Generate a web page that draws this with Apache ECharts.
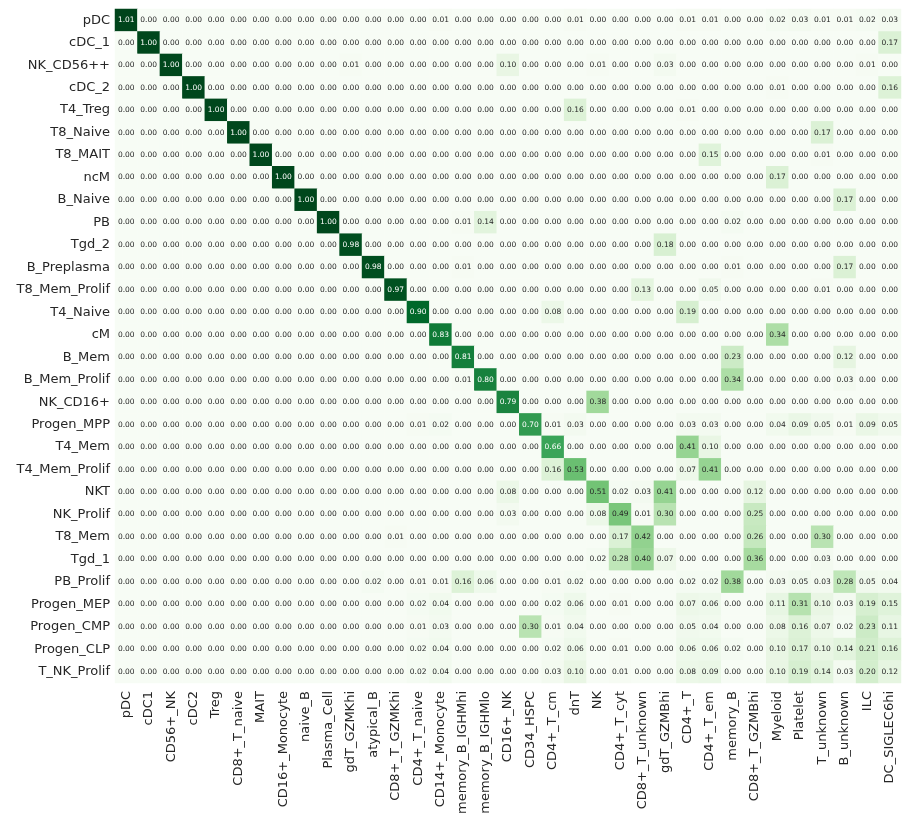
<!DOCTYPE html>
<html>
<head>
<meta charset="utf-8">
<script src="https://cdn.jsdelivr.net/npm/echarts@6/dist/echarts.min.js"></script>
<style>
  html, body { margin: 0; padding: 0; background: #fff; }
  #chart { width: 911px; height: 829px; }
</style>
</head>
<body>
<div id="chart"></div>
<script>
'use strict';
// row labels (predicted clusters) top to bottom
const rowLabels = ['pDC', 'cDC_1', 'NK_CD56++', 'cDC_2', 'T4_Treg', 'T8_Naive', 'T8_MAIT', 'ncM',
    'B_Naive', 'PB', 'Tgd_2', 'B_Preplasma', 'T8_Mem_Prolif', 'T4_Naive', 'cM', 'B_Mem',
    'B_Mem_Prolif', 'NK_CD16+', 'Progen_MPP', 'T4_Mem', 'T4_Mem_Prolif', 'NKT', 'NK_Prolif',
    'T8_Mem', 'Tgd_1', 'PB_Prolif', 'Progen_MEP', 'Progen_CMP', 'Progen_CLP', 'T_NK_Prolif'];

// column labels left to right
const colLabels = ['pDC', 'cDC1', 'CD56+_NK', 'cDC2', 'Treg', 'CD8+_T_naive', 'MAIT', 'CD16+_Monocyte',
    'naive_B', 'Plasma_Cell', 'gdT_GZMKhi', 'atypical_B', 'CD8+_T_GZMKhi', 'CD4+_T_naive',
    'CD14+_Monocyte', 'memory_B_IGHMhi', 'memory_B_IGHMlo', 'CD16+_NK', 'CD34_HSPC', 'CD4+_T_cm',
    'dnT', 'NK', 'CD4+_T_cyt', 'CD8+_T_unknown', 'gdT_GZMBhi', 'CD4+_T', 'CD4+_T_em', 'memory_B',
    'CD8+_T_GZMBhi', 'Myeloid', 'Platelet', 'T_unknown', 'B_unknown', 'ILC', 'DC_SIGLEC6hi'];

// one array per row, 35 values each
const values = [
    [1.01,0,0,0,0, 0,0,0,0,0, 0,0,0,0,0.01, 0,0,0,0,0, 0.01,0,0,0,0, 0.01,0.01,0,0,0.02, 0.03,0.01,0.01,0.02,0.03],
    [0,1.00,0,0,0, 0,0,0,0,0, 0,0,0,0,0, 0,0,0,0,0, 0,0,0,0,0, 0,0,0,0,0, 0,0,0,0,0.17],
    [0,0,1.00,0,0, 0,0,0,0,0, 0.01,0,0,0,0, 0,0,0.10,0,0, 0,0.01,0,0,0.03, 0,0,0,0,0, 0,0,0,0.01,0],
    [0,0,0,1.00,0, 0,0,0,0,0, 0,0,0,0,0, 0,0,0,0,0, 0,0,0,0,0, 0,0,0,0,0.01, 0,0,0,0,0.16],
    [0,0,0,0,1.00, 0,0,0,0,0, 0,0,0,0,0, 0,0,0,0,0, 0.16,0,0,0,0, 0.01,0,0,0,0, 0,0,0,0,0],
    [0,0,0,0,0, 1.00,0,0,0,0, 0,0,0,0,0, 0,0,0,0,0, 0,0,0,0,0, 0,0,0,0,0, 0,0.17,0,0,0],
    [0,0,0,0,0, 0,1.00,0,0,0, 0,0,0,0,0, 0,0,0,0,0, 0,0,0,0,0, 0,0.15,0,0,0, 0,0.01,0,0,0],
    [0,0,0,0,0, 0,0,1.00,0,0, 0,0,0,0,0, 0,0,0,0,0, 0,0,0,0,0, 0,0,0,0,0.17, 0,0,0,0,0],
    [0,0,0,0,0, 0,0,0,1.00,0, 0,0,0,0,0, 0,0,0,0,0, 0,0,0,0,0, 0,0,0,0,0, 0,0,0.17,0,0],
    [0,0,0,0,0, 0,0,0,0,1.00, 0,0,0,0,0, 0.01,0.14,0,0,0, 0,0,0,0,0, 0,0,0.02,0,0, 0,0,0,0,0],
    [0,0,0,0,0, 0,0,0,0,0, 0.98,0,0,0,0, 0,0,0,0,0, 0,0,0,0,0.18, 0,0,0,0,0, 0,0,0,0,0],
    [0,0,0,0,0, 0,0,0,0,0, 0,0.98,0,0,0, 0.01,0,0,0,0, 0,0,0,0,0, 0,0,0.01,0,0, 0,0,0.17,0,0],
    [0,0,0,0,0, 0,0,0,0,0, 0,0,0.97,0,0, 0,0,0,0,0, 0,0,0,0.13,0, 0,0.05,0,0,0, 0,0.01,0,0,0],
    [0,0,0,0,0, 0,0,0,0,0, 0,0,0,0.90,0, 0,0,0,0,0.08, 0,0,0,0,0, 0.19,0,0,0,0, 0,0,0,0,0],
    [0,0,0,0,0, 0,0,0,0,0, 0,0,0,0,0.83, 0,0,0,0,0, 0,0,0,0,0, 0,0,0,0,0.34, 0,0,0,0,0],
    [0,0,0,0,0, 0,0,0,0,0, 0,0,0,0,0, 0.81,0,0,0,0, 0,0,0,0,0, 0,0,0.23,0,0, 0,0,0.12,0,0],
    [0,0,0,0,0, 0,0,0,0,0, 0,0,0,0,0, 0.01,0.80,0,0,0, 0,0,0,0,0, 0,0,0.34,0,0, 0,0,0.03,0,0],
    [0,0,0,0,0, 0,0,0,0,0, 0,0,0,0,0, 0,0,0.79,0,0, 0,0.38,0,0,0, 0,0,0,0,0, 0,0,0,0,0],
    [0,0,0,0,0, 0,0,0,0,0, 0,0,0,0.01,0.02, 0,0,0,0.70,0.01, 0.03,0,0,0,0, 0.03,0.03,0,0,0.04, 0.09,0.05,0.01,0.09,0.05],
    [0,0,0,0,0, 0,0,0,0,0, 0,0,0,0,0, 0,0,0,0,0.66, 0,0,0,0,0, 0.41,0.10,0,0,0, 0,0,0,0,0],
    [0,0,0,0,0, 0,0,0,0,0, 0,0,0,0,0, 0,0,0,0,0.16, 0.53,0,0,0,0, 0.07,0.41,0,0,0, 0,0,0,0,0],
    [0,0,0,0,0, 0,0,0,0,0, 0,0,0,0,0, 0,0,0.08,0,0, 0,0.51,0.02,0.03,0.41, 0,0,0,0.12,0, 0,0,0,0,0],
    [0,0,0,0,0, 0,0,0,0,0, 0,0,0,0,0, 0,0,0.03,0,0, 0,0.08,0.49,0.01,0.30, 0,0,0,0.25,0, 0,0,0,0,0],
    [0,0,0,0,0, 0,0,0,0,0, 0,0,0.01,0,0, 0,0,0,0,0, 0,0,0.17,0.42,0, 0,0,0,0.26,0, 0,0.30,0,0,0],
    [0,0,0,0,0, 0,0,0,0,0, 0,0,0,0,0, 0,0,0,0,0, 0,0.02,0.28,0.40,0.07, 0,0,0,0.36,0, 0,0.03,0,0,0],
    [0,0,0,0,0, 0,0,0,0,0, 0,0.02,0,0.01,0.01, 0.16,0.06,0,0,0.01, 0.02,0,0,0,0, 0.02,0.02,0.38,0,0.03, 0.05,0.03,0.28,0.05,0.04],
    [0,0,0,0,0, 0,0,0,0,0, 0,0,0,0.02,0.04, 0,0,0,0,0.02, 0.06,0,0.01,0,0, 0.07,0.06,0,0,0.11, 0.31,0.10,0.03,0.19,0.15],
    [0,0,0,0,0, 0,0,0,0,0, 0,0,0,0.01,0.03, 0,0,0,0.30,0.01, 0.04,0,0,0,0, 0.05,0.04,0,0,0.08, 0.16,0.07,0.02,0.23,0.11],
    [0,0,0,0,0, 0,0,0,0,0, 0,0,0,0.02,0.04, 0,0,0,0,0.02, 0.06,0,0.01,0,0, 0.06,0.06,0.02,0,0.10, 0.17,0.10,0.14,0.21,0.16],
    [0,0,0,0,0, 0,0,0,0,0, 0,0,0,0.02,0.04, 0,0,0,0,0.03, 0.10,0,0.01,0,0, 0.08,0.09,0,0,0.10, 0.19,0.14,0.03,0.20,0.12]
];

const greens = ['#f7fcf5', '#e5f5e0', '#c7e9c0', '#a1d99b', '#74c476', '#41ab5d', '#238b45', '#006d2c', '#00441b'];

const cells = [];
values.forEach((row, r) => {
    row.forEach((v, c) => {
        cells.push({
            value: [c, r, v],
            label: { color: v > 0.6 ? '#ffffff' : '#262626' }
        });
    });
});

const chart = echarts.init(document.getElementById('chart'));
chart.setOption({
    backgroundColor: '#fff',
    animation: false,
    grid: { left: 115, top: 9, width: 786, height: 674 },
    xAxis: {
        type: 'category',
        data: colLabels,
        axisLine: { show: false },
        axisTick: { show: false },
        splitArea: { show: false },
        axisLabel: {
            interval: 0,
            rotate: 90,
            margin: 8,
            fontSize: 13,
            color: '#262626',
            fontFamily: 'DejaVu Sans'
        }
    },
    yAxis: {
        type: 'category',
        data: rowLabels,
        inverse: true,
        axisLine: { show: false },
        axisTick: { show: false },
        splitArea: { show: false },
        axisLabel: {
            interval: 0,
            margin: 5,
            fontSize: 13,
            color: '#262626',
            fontFamily: 'DejaVu Sans'
        }
    },
    visualMap: {
        show: false,
        min: 0,
        max: 1.01,
        dimension: 2,
        inRange: { color: greens }
    },
    series: [{
        type: 'heatmap',
        data: cells,
        label: {
            show: true,
            fontSize: 7.5,
            fontFamily: 'DejaVu Sans',
            formatter: p => p.value[2].toFixed(2)
        },
        itemStyle: { borderWidth: 0 },
        emphasis: { disabled: true }
    }]
});
</script>
</body>
</html>
